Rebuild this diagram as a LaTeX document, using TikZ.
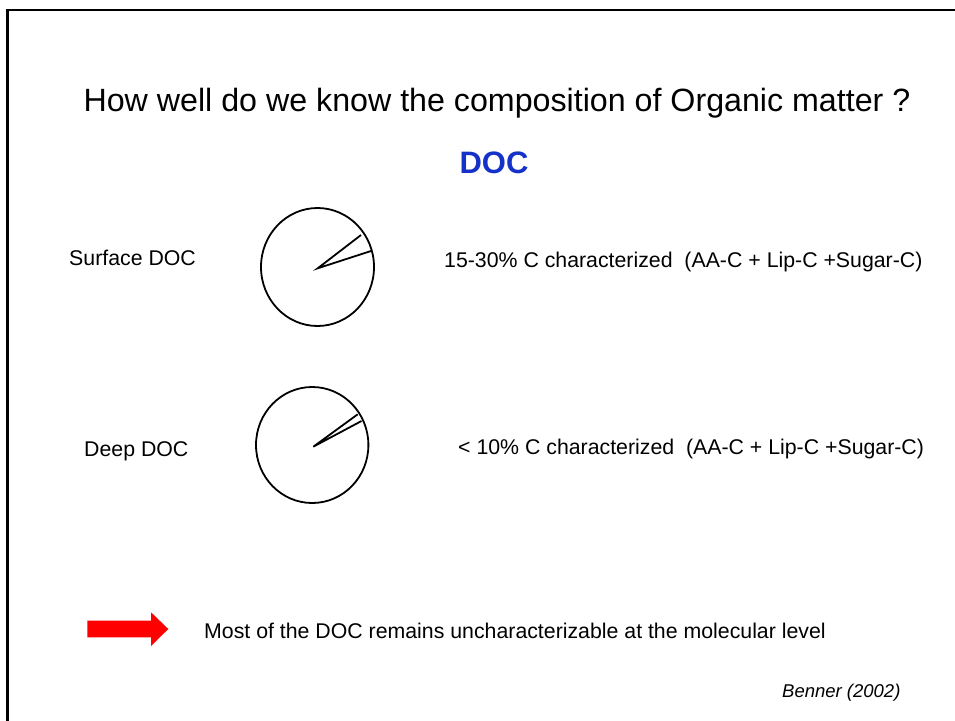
\documentclass[tikz,border=0pt]{standalone}
\usepackage{fontspec}
\setmainfont{Liberation Sans}
\definecolor{docblue}{RGB}{20,50,200}
\definecolor{arrowred}{RGB}{255,0,0}
\begin{document}
\begin{tikzpicture}[x=1pt,y=-1pt,
  txt/.style={inner sep=0pt,anchor=west,font=\fontsize{21.3}{25}\selectfont},
  pieline/.style={line width=1.8pt},
  frameline/.style={line width=2.6pt}]
\useasboundingbox (0,0) rectangle (955,720);
\fill[white] (0,0) rectangle (955,720);
% frame
\draw[frameline] (7.5,730) -- (7.5,10) -- (965,10);
% title
\node[inner sep=0pt,font=\fontsize{32.2}{38}\selectfont] (title) at (497,103) {How well do we know the composition of Organic matter ?};
\node[inner sep=0pt,font=\fontsize{31}{36}\selectfont\bfseries,text=docblue] (doc) at (494,163) {DOC};
% surface
\node[txt] (surf) at (69,258) {Surface DOC};
\coordinate (c1) at (317.5,267);
\draw[pieline] (c1) ellipse [x radius=56.5, y radius=59];
\coordinate (c1a) at (361,235);
\coordinate (c1b) at (371,251);
\draw[pieline,line join=miter] (c1a) -- (317.7,268.3) -- (c1b);
\node[txt] (surfdesc) at (444,262) {15-30\% C characterized\ \ (AA-C + Lip-C +Sugar-C)};
% deep
\node[txt] (deep) at (84,451) {Deep DOC};
\coordinate (c2) at (312.2,445);
\draw[pieline] (c2) ellipse [x radius=56.2, y radius=58];
\coordinate (c2a) at (357.7,414.3);
\coordinate (c2b) at (361.5,421);
\draw[pieline,line join=miter] (c2a) -- (313.3,446.7) -- (c2b);
\node[txt] (deepdesc) at (458,449) {< 10\% C characterized\ \ (AA-C + Lip-C +Sugar-C)};
% arrow
\fill[arrowred] (87.3,620.7) -- (151,620.7) -- (151,612.3) -- (168.3,629) -- (151,646) -- (151,637.3) -- (87.3,637.3) -- cycle;
\node[txt] (most) at (204,631) {Most of the DOC remains uncharacterizable at the molecular level};
\node[txt,font=\fontsize{18.5}{22}\selectfont\itshape] (benner) at (782,693) {Benner (2002)};
\end{tikzpicture}
\end{document}
